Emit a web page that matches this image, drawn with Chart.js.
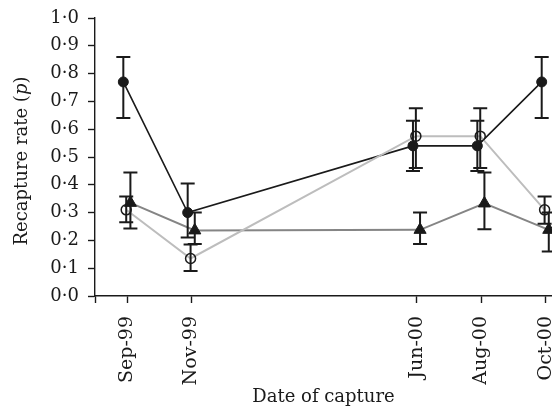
<!DOCTYPE html>
<html lang="en">
<head>
    <meta charset="UTF-8">
    <title>Recapture rate</title>
    <script src="https://cdn.jsdelivr.net/npm/chart.js"></script>
</head>
<style>
    body {
        background-color: #ffffff;
        margin: 0;
        padding: 0;
        overflow: hidden;
    }
    .wrap {
        width: 560px;
        height: 413px;
        position: relative;
    }
</style>
<body>
    <div class="wrap">
        <canvas id="chart"></canvas>
    </div>

    <script>
        // months counted from Sep-99
        const captureMonths = [0, 2, 9, 11, 13];
        const dateLabels = ['Sep-99', 'Nov-99', 'Jun-00', 'Aug-00', 'Oct-00'];
        const yTickValues = [0, 0.1, 0.2, 0.3, 0.4, 0.5, 0.6, 0.7, 0.8, 0.9, 1.0];
        const yTickLabels = ['0·0', '0·1', '0·2', '0·3', '0·4', '0·5', '0·6', '0·7', '0·8', '0·9', '1·0'];

        // filled circles
        const rateA = [0.77, 0.30, 0.54, 0.54, 0.77];
        const lowA = [0.64, 0.21, 0.45, 0.45, 0.64];
        const highA = [0.86, 0.405, 0.63, 0.63, 0.86];
        // open circles
        const rateB = [0.31, 0.135, 0.575, 0.575, 0.31];
        const lowB = [0.265, 0.09, 0.46, 0.46, 0.26];
        const highB = [0.358, 0.185, 0.675, 0.675, 0.358];
        // triangles
        const rateC = [0.335, 0.236, 0.238, 0.333, 0.238];
        const lowC = [0.243, 0.187, 0.187, 0.24, 0.16];
        const highC = [0.444, 0.30, 0.30, 0.444, 0.30];

        // small sideways shift so the bars do not overlap exactly
        const shiftA = -0.12, shiftB = -0.03, shiftC = 0.1;

        const ink = '#1a1a1a';
        const serif = "'DejaVu Serif', serif";

        function points(rates, lows, highs, shift) {
            return rates.map((r, i) => ({ x: captureMonths[i] + shift, y: r, lo: lows[i], hi: highs[i] }));
        }

        const errorBars = {
            id: 'errorBars',
            afterDatasetsDraw(chart) {
                const c = chart.ctx;
                const xs = chart.scales.x, ys = chart.scales.y;
                c.save();
                c.strokeStyle = ink;
                c.lineWidth = 2;
                chart.data.datasets.forEach(ds => {
                    ds.data.forEach(p => {
                        const x = xs.getPixelForValue(p.x);
                        const y1 = ys.getPixelForValue(p.lo);
                        const y2 = ys.getPixelForValue(p.hi);
                        c.beginPath();
                        c.moveTo(x, y1); c.lineTo(x, y2);
                        c.moveTo(x - 7, y1); c.lineTo(x + 7, y1);
                        c.moveTo(x - 7, y2); c.lineTo(x + 7, y2);
                        c.stroke();
                    });
                });
                c.restore();
            }
        };

        // y title with italic p
        const yTitle = {
            id: 'yTitle',
            afterDraw(chart) {
                const c = chart.ctx;
                const plain = '18px ' + serif, ital = 'italic 18px ' + serif;
                const parts = [['Recapture rate (', plain], ['p', ital], [')', plain]];
                c.save();
                let total = 0;
                parts.forEach(p => { c.font = p[1]; total += c.measureText(p[0]).width; });
                c.translate(22, 161);
                c.rotate(-Math.PI / 2);
                c.fillStyle = ink;
                c.textBaseline = 'middle';
                c.textAlign = 'left';
                let x = -total / 2;
                parts.forEach(p => {
                    c.font = p[1];
                    c.fillText(p[0], x, 0);
                    x += c.measureText(p[0]).width;
                });
                c.restore();
            }
        };

        const ctx = document.getElementById('chart').getContext('2d');
        const chart = new Chart(ctx, {
            type: 'line',
            data: {
                datasets: [{
                    data: points(rateB, lowB, highB, shiftB),
                    borderColor: '#bdbdbd',
                    borderWidth: 2,
                    pointStyle: 'circle',
                    pointRadius: 5,
                    pointBackgroundColor: 'rgba(0,0,0,0)',
                    pointBorderColor: ink,
                    pointBorderWidth: 1.5
                }, {
                    data: points(rateC, lowC, highC, shiftC),
                    borderColor: '#858585',
                    borderWidth: 2,
                    pointStyle: 'triangle',
                    pointRadius: 7,
                    pointBackgroundColor: ink,
                    pointBorderColor: ink,
                    pointBorderWidth: 1
                }, {
                    data: points(rateA, lowA, highA, shiftA),
                    borderColor: ink,
                    borderWidth: 1.6,
                    pointStyle: 'circle',
                    pointRadius: 5,
                    pointBackgroundColor: ink,
                    pointBorderColor: ink,
                    pointBorderWidth: 1
                }]
            },
            options: {
                responsive: true,
                maintainAspectRatio: false,
                animation: false,
                layout: { padding: { top: 18, left: 0, right: 0, bottom: 0 } },
                plugins: {
                    legend: { display: false },
                    tooltip: { enabled: false }
                },
                scales: {
                    x: {
                        type: 'linear',
                        min: -1,
                        max: 13.2,
                        afterBuildTicks(scale) {
                            scale.ticks = [-1].concat(captureMonths).map(v => ({ value: v }));
                        },
                        afterFit(scale) {
                            scale.height = 117;
                            scale.paddingLeft = 0;
                            scale.paddingRight = 0;
                        },
                        ticks: {
                            autoSkip: false,
                            minRotation: 90,
                            maxRotation: 90,
                            padding: 13,
                            color: ink,
                            font: { family: serif, size: 19 },
                            callback(value) {
                                const i = captureMonths.indexOf(value);
                                return i < 0 ? '' : dateLabels[i];
                            }
                        },
                        grid: {
                            display: true,
                            drawOnChartArea: false,
                            tickLength: 7,
                            tickColor: ink,
                            tickWidth: 1.4
                        },
                        border: { display: true, color: ink, width: 1.4 },
                        title: {
                            display: true,
                            text: 'Date of capture',
                            color: ink,
                            font: { family: serif, size: 18 },
                            padding: { top: 0, bottom: 5 }
                        }
                    },
                    y: {
                        min: 0,
                        max: 1,
                        afterBuildTicks(scale) {
                            scale.ticks = yTickValues.map(v => ({ value: v }));
                        },
                        afterFit(scale) {
                            scale.width = 95;
                            scale.paddingTop = 0;
                            scale.paddingBottom = 0;
                        },
                        ticks: {
                            padding: 9,
                            color: ink,
                            font: { family: serif, size: 18 },
                            callback(value, index) {
                                return yTickLabels[index];
                            }
                        },
                        grid: {
                            display: true,
                            drawOnChartArea: false,
                            tickLength: 7,
                            tickColor: ink,
                            tickWidth: 1.4
                        },
                        border: { display: true, color: ink, width: 1.4 }
                    }
                }
            },
            plugins: [errorBars, yTitle]
        });
    </script>
</body>
</html>
